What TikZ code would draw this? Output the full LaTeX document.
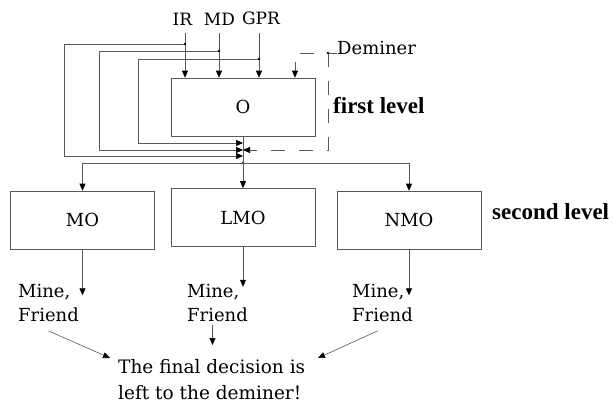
\documentclass[tikz,border=0pt]{standalone}
\usepackage{fontspec}
\setmainfont{DejaVu Serif}
\newfontfamily\levelfont{Liberation Serif}
\usetikzlibrary{arrows.meta,positioning}

\begin{document}
\begin{tikzpicture}[x=1pt,y=-1pt,
		% Style definitions
		unit/.style={
			rectangle,
			draw=black!65,
			line width=0.6pt,
			minimum width=144pt,
			minimum height=58pt,
			inner sep=0pt,
			font=\fontsize{18}{20}\selectfont
		},
		wire/.style={
			draw=black!65,
			line width=0.6pt
		},
		arrow/.style={
			wire,
			-{Triangle[width=6pt,length=7pt,color=black]}
		},
		dashline/.style={
			dash pattern=on 14pt off 14pt
		},
		junction/.style={circle, fill=black, inner sep=0pt, minimum size=2.6pt},
		sensor/.style={font=\fontsize{17}{20}\selectfont, inner sep=0pt, outer ysep=8pt, anchor=south},
		note/.style={font=\fontsize{18}{24}\selectfont, align=left, inner sep=0pt, anchor=north west},
		level/.style={font=\levelfont\bfseries\fontsize{23}{26}\selectfont, inner sep=0pt, anchor=west}
		]
		\useasboundingbox (0,0) rectangle (615,405);
		
		% First level
		\node[unit] (O) at (243,107) {O};
		\node[level] (L1) at (333,106) {first level};
		
		% Sensors
		\node[sensor] (IR) at (182.5,33) {IR};
		\node[sensor] (MD) at (219.5,33) {MD};
		\node[sensor] (GPR) at (261,33) {GPR};
		\node[anchor=west, inner sep=0pt, font=\fontsize{18}{20}\selectfont] (Dem) at (337,48) {Deminer};
		
		\coordinate (irdot) at (185,44);
		\coordinate (mddot) at (219,51);
		\coordinate (gprdot) at (259,59);
		\coordinate (demdot) at (328,53);
		\coordinate (demx) at (295,0);
		\coordinate (tap1) at (243,156);
		\coordinate (tap2) at (243,150);
		\coordinate (tap3) at (243,143);
		\coordinate (merge) at (243,163);
		
		\draw[arrow] (IR.south -| irdot) -- (irdot |- O.north);
		\draw[arrow] (MD.south -| mddot) -- (mddot |- O.north);
		\draw[arrow] (GPR.south -| gprdot) -- (gprdot |- O.north);
		
		% Feedback of the sensor data
		\draw[arrow] (irdot) -- ++(-121,0) |- (tap1);
		\draw[arrow] (mddot) -- ++(-120,0) |- (tap2);
		\draw[arrow] (gprdot) -- ++(-121,0) |- (tap3);
		
		% Deminer
		\draw[wire] (demdot) -- (Dem.west |- demdot);
		\draw[arrow, dashline, dash phase=14pt] (demdot) -| (demx |- O.north);
		\draw[arrow, dashline] (demdot) |- (tap2);
		
		\foreach \p in {irdot,mddot,gprdot,demdot,merge}
		\node[junction] at (\p) {};
		
		% Second level
		\node[unit] (MO) at (82.5,220) {MO};
		\node[unit] (LMO) at (243,217.5) {LMO};
		\node[unit] (NMO) at (409,220) {NMO};
		\node[level] (L2) at (492,212) {second level};
		
		\draw[wire] (O.south) -- (merge);
		\draw[arrow] (merge) -- (LMO.north);
		\draw[arrow] (merge) -| (MO.north);
		\draw[arrow] (merge) -| (NMO.north);
		
		% Outputs
		\node[note] (outMO) at (18,284) {Mine,\\Friend};
		\node[note] (outLMO) at (187,284) {Mine,\\Friend};
		\node[note] (outNMO) at (352,284) {Mine,\\Friend};
		\node[note, font=\fontsize{18.5}{26}\selectfont] (final) at (118,359) {The final decision is\\left to the deminer!};
		
		\draw[arrow] (MO.south) -- ++(0,46);
		\draw[arrow] (LMO.south) -- ++(0,40);
		\draw[arrow] (NMO.south) -- ++(0,46);
		
		\draw[arrow] ([yshift=-9pt]outMO.south) -- ([xshift=-8pt,yshift=1pt]final.north west);
		\draw[arrow] ([xshift=-5pt,yshift=-3pt]outLMO.south) -- ([xshift=-5pt,yshift=14pt]outLMO.south |- final.north);
		\draw[arrow] ([xshift=-5pt,yshift=-9pt]outNMO.south) -- ([xshift=200pt,yshift=1pt]final.north west);
		
	\end{tikzpicture}
\end{document}
